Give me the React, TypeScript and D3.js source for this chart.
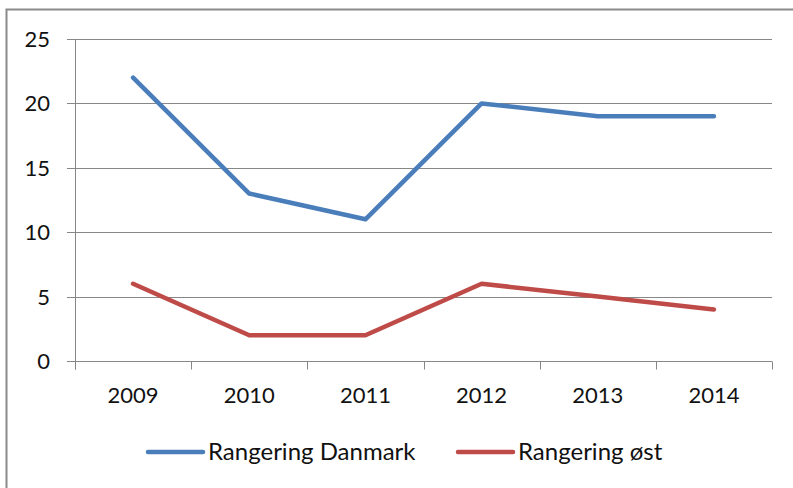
import React, { useEffect, useRef } from "react";
import * as d3 from "d3";

const years = ["2009", "2010", "2011", "2012", "2013", "2014"];
const danmark = [22, 13, 11, 20, 19, 19];
const oest = [6, 2, 2, 6, 5, 4];
const yTicks = [0, 5, 10, 15, 20, 25];
const seriesNames = ["Rangering Danmark", "Rangering øst"];
const colors = ["#4a7ebb", "#be4b48"];

const W = 793;
const H = 488;
const FONT = "Lato, Calibri, 'Noto Sans', sans-serif";

export default function App() {
  const ref = useRef<SVGSVGElement>(null);

  useEffect(() => {
    const svg = d3.select(ref.current);
    svg.selectAll("*").remove();

    const margin = { left: 75, right: 21, top: 39, bottom: 127 };

    // outer chart frame
    svg
      .append("rect")
      .attr("x", 6.5)
      .attr("y", 9.5)
      .attr("width", W + 20)
      .attr("height", H + 20)
      .attr("fill", "#fff")
      .attr("stroke", "#8a8a8a")
      .attr("stroke-width", 2);

    const x = d3
      .scaleBand()
      .domain(years)
      .range([margin.left, W - margin.right]);
    const y = d3
      .scaleLinear()
      .domain([0, 25])
      .range([H - margin.bottom, margin.top]);

    const g = svg.append("g");

    // gridlines
    g.selectAll(".grid")
      .data(yTicks.filter(d => d > 0))
      .enter()
      .append("line")
      .attr("x1", margin.left - 8)
      .attr("x2", W - margin.right)
      .attr("y1", d => Math.round(y(d)) + 0.5)
      .attr("y2", d => Math.round(y(d)) + 0.5)
      .attr("stroke", "#878787")
      .attr("stroke-width", 1);

    // y axis
    const y0 = Math.round(y(0)) + 0.5;
    g.append("line")
      .attr("x1", margin.left + 0.5)
      .attr("x2", margin.left + 0.5)
      .attr("y1", margin.top)
      .attr("y2", y0 + 8)
      .attr("stroke", "#878787");
    g.append("line")
      .attr("x1", margin.left - 8)
      .attr("x2", W - margin.right)
      .attr("y1", y0)
      .attr("y2", y0)
      .attr("stroke", "#878787");

    // x ticks at category boundaries
    const bounds = years.map(d => x(d) as number).concat([W - margin.right]);
    g.selectAll(".xtick")
      .data(bounds)
      .enter()
      .append("line")
      .attr("x1", d => Math.round(d) + 0.5)
      .attr("x2", d => Math.round(d) + 0.5)
      .attr("y1", y0)
      .attr("y2", y0 + 8)
      .attr("stroke", "#878787");

    // y labels
    g.selectAll(".ylab")
      .data(yTicks)
      .enter()
      .append("text")
      .attr("x", 50)
      .attr("y", d => y(d) + 8)
      .attr("text-anchor", "end")
      .attr("font-family", FONT)
      .attr("font-size", 22)
      .attr("fill", "#111")
      .text(d => d);

    // x labels
    g.selectAll(".xlab")
      .data(years)
      .enter()
      .append("text")
      .attr("x", d => (x(d) as number) + x.bandwidth() / 2)
      .attr("y", 403)
      .attr("text-anchor", "middle")
      .attr("font-family", FONT)
      .attr("font-size", 22)
      .attr("fill", "#111")
      .text(d => d);

    // lines
    const line = d3
      .line<number>()
      .x((_, i) => (x(years[i]) as number) + x.bandwidth() / 2)
      .y(d => y(d));

    [danmark, oest].forEach((s, i) => {
      g.append("path")
        .datum(s)
        .attr("d", line)
        .attr("fill", "none")
        .attr("stroke", colors[i])
        .attr("stroke-width", 4.5)
        .attr("stroke-linejoin", "round")
        .attr("stroke-linecap", "round");
    });

    // legend
    const legX = [148, 458];
    const legY = 452;
    seriesNames.forEach((name, i) => {
      g.append("line")
        .attr("x1", legX[i])
        .attr("x2", legX[i] + 55)
        .attr("y1", legY)
        .attr("y2", legY)
        .attr("stroke", colors[i])
        .attr("stroke-width", 4.5)
        .attr("stroke-linecap", "round");
      g.append("text")
        .attr("x", legX[i] + 60)
        .attr("y", legY + 8)
        .attr("font-family", FONT)
        .attr("font-size", 24)
        .attr("fill", "#111")
        .text(name);
    });
  }, []);

  return (
    <svg
      ref={ref}
      width={W}
      height={H}
      style={{ position: "absolute", left: 0, top: 0, background: "#fff" }}
    />
  );
}
